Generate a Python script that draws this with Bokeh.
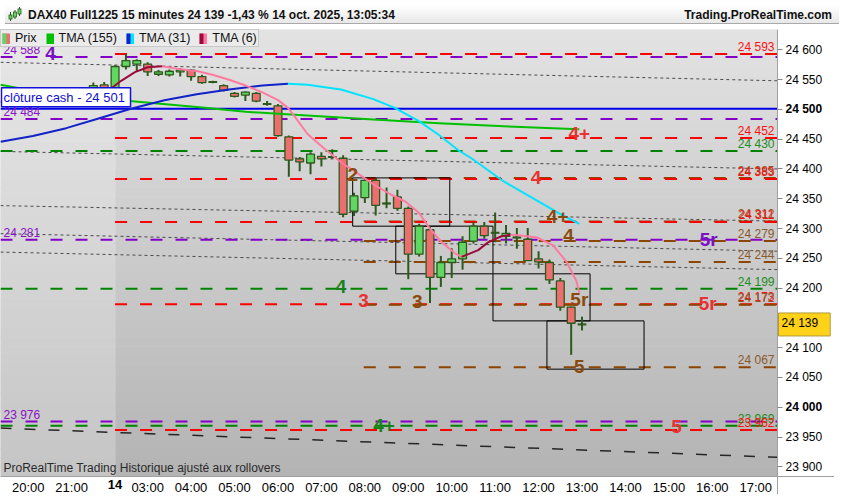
import numpy as np
from bokeh.plotting import figure
from bokeh.models import (ColumnDataSource, FixedTicker, Label, Legend, LegendItem,
                          Div, Range1d)
from bokeh.layouts import column
from bokeh.embed import file_html
from bokeh.resources import INLINE
from bokeh.core.properties import value

# ---------------- data ----------------
# 15-minute bars, index 0 = 03:00 on the 14th (session gap removed)
bar_idx = list(range(-13, 41))
opens = [24515, 24512, 24518, 24516, 24528, 24520, 24515, 24522, 24530, 24541,
         24528, 24572, 24576, 24576, 24559, 24558, 24563, 24566, 24555, 24546,
         24540, 24527, 24524, 24527, 24509, 24506, 24454, 24417, 24410, 24421,
         24420, 24418, 24329, 24352, 24381, 24342, 24353, 24334, 24257, 24298,
         24218, 24243, 24249, 24279, 24304, 24293, 24287, 24285, 24282, 24249,
         24243, 24212, 24168, 24139]
highs = [24521, 24520, 24524, 24531, 24533, 24526, 24524, 24536, 24545, 24546,
         24574, 24593, 24584, 24579, 24566, 24567, 24569, 24568, 24558, 24548,
         24542, 24529, 24530, 24529, 24514, 24509, 24456, 24420, 24428, 24428,
         24433, 24423, 24360, 24384, 24384, 24369, 24365, 24337, 24308, 24304,
         24254, 24267, 24287, 24311, 24311, 24327, 24306, 24301, 24301, 24262,
         24248, 24217, 24169, 24152]
lows = [24508, 24507, 24512, 24514, 24517, 24512, 24510, 24519, 24524, 24528,
        24522, 24567, 24564, 24556, 24556, 24555, 24555, 24548, 24543, 24544,
        24530, 24520, 24514, 24512, 24506, 24454, 24387, 24396, 24391, 24404,
        24417, 24319, 24321, 24343, 24322, 24334, 24330, 24215, 24253, 24175,
        24202, 24217, 24231, 24275, 24283, 24277, 24275, 24266, 24246, 24233,
        24207, 24162, 24088, 24129]
closes = [24512, 24518, 24516, 24527, 24520, 24515, 24522, 24533, 24540, 24532,
          24572, 24582, 24582, 24563, 24563, 24564, 24566, 24555, 24545, 24546,
          24532, 24522, 24529, 24514, 24509, 24456, 24415, 24412, 24425, 24417,
          24420, 24324, 24355, 24381, 24339, 24342, 24334, 24257, 24304, 24218,
          24243, 24249, 24277, 24304, 24288, 24293, 24292, 24285, 24246, 24244,
          24214, 24168, 24141, 24139]

hour_ticks = [-11, -7, -3, 0, 4, 8, 12, 16, 20, 24, 28, 32, 36, 40, 44, 48, 52, 56]
hour_labels = ["20:00", "21:00", "14", "03:00", "04:00", "05:00", "06:00", "07:00",
               "08:00", "09:00", "10:00", "11:00", "12:00", "13:00", "14:00",
               "15:00", "16:00", "17:00"]
price_ticks = list(range(23900, 24601, 50))
bold_price_ticks = [24500, 24000]

tma155_x = [-13.55, -10.21, -2.44, 4.52, 9.03, 13.55, 20.78, 26.83, 32.79, 39.75]
tma155_v = [24541.5, 24530, 24515.5, 24504, 24496, 24491, 24483, 24476.6, 24471.7, 24466.8]

tma31_x = [-13.55, -10.57, -7.50, -4.52, -1.54, 1.54, 4.52, 7.50, 10.57, 12.92, 14.72,
           17.80, 20.78, 22.76, 25.02, 26.83, 28.64, 29.81, 32.79, 35.86, 38.21, 39.75]
tma31_v = [24445.7, 24455.5, 24468.5, 24484.7, 24501, 24515.5, 24525.3, 24533.4, 24540,
           24543.2, 24541.5, 24533.4, 24517.2, 24502.6, 24479.8, 24457, 24431, 24418,
           24379, 24346.7, 24322.3, 24307.7]

tma6_x = [-13.55, -9.94, -6.96, -4.97, -3.61, -2.44, -1.17, 0, 1.36, 2.98, 4.52, 6.05,
          7.50, 9.03, 10.57, 12.01, 12.92, 13.55, 14.72, 16.26, 17.89, 19.24, 20.78,
          22.31, 23.76, 25.02, 25.93, 27.10, 28.27, 28.91, 30.44, 31.35, 32.52, 33.42,
          34.33, 35.86, 37.31, 38.57, 39.48, 39.75]
tma6_v = [24512.3, 24515.6, 24517, 24522, 24531.8, 24548, 24562.6, 24570.8, 24572.4,
          24567.5, 24564.3, 24557.8, 24549.7, 24540, 24528.5, 24515.6, 24502.6, 24488,
          24458.7, 24434.3, 24410, 24393.8, 24374.3, 24358, 24345, 24325.5, 24301.2,
          24276.8, 24258.9, 24252.5, 24263.8, 24276.8, 24286.6, 24289.8, 24288.2,
          24285, 24272, 24244.3, 24212, 24192.4]

level_price = [24593, 24588, 24484, 24452, 24430, 24385, 24383, 24312, 24311, 24281,
               24279, 24244, 24199, 24173, 24172, 24067, 23976, 23969, 23962]
level_kind = ["red", "purple", "purple", "red", "green", "brown", "red", "brown", "red",
              "purple", "brown", "brown", "green", "red", "brown", "brown", "purple",
              "green", "red"]
day_start = -3        # first bar of the 14th
brown_start = 19.9    # where the brown levels begin

trend_y0 = [24579, 24429.5, 24338.5, 24291.5, 24260.5, 23965]
trend_y1 = [24548, 24400, 24312.5, 24262, 24231, 23916]

box_left = [18.88, 22.85, 31.80, 36.77]
box_right = [27.82, 31.80, 40.74, 45.71]
box_top = [24385, 24304, 24224, 24145]
box_bottom = [24304, 24224, 24145, 24064]

sig_text = ["4", "2", "4+", "2", "4", "4+", "4", "5r", "4", "3", "3", "5r", "5r", "5", "4+", "5"]
sig_x = [-8.94, -0.18, 39.75, 18.88, 35.77, 37.76, 38.75, 51.67, 17.8, 19.87, 24.84,
         39.75, 51.58, 39.75, 21.77, 48.7]
sig_y = [24594, 24615, 24458.7, 24390.5, 24386.4, 24320.7, 24288.2, 24281.7, 24202,
         24179.4, 24177.8, 24181, 24174.5, 24069, 23970, 23968]
sig_kind = ["purple", "red", "red", "brown", "red", "brown", "brown", "purple", "green",
            "red", "brown", "brown", "red", "brown", "green", "red"]

cash_close = 24501
last_price = 24139

# ---------------- styling ----------------
FIG_W, FIG_H = 834, 465          # figure size (frame covers it all)
DATA_W, DATA_H = 777, 447        # price area inside it
X_LO, X_HI = -13.55, 58.0        # visible bar span of the price area
Y_LO, Y_HI = 23883.8, 24634.1    # visible price span of the price area
X_MAX = X_LO + (X_HI - X_LO) * FIG_W / DATA_W
Y_MIN = Y_HI - (Y_HI - Y_LO) * FIG_H / DATA_H

UP_FILL, DN_FILL, EDGE = "#62d662", "#ec6e6e", "#2c5a1c"
C155, C31_UP, C31_DN, C6_UP, C6_DN = "#00c000", "#1022c8", "#00e4ff", "#9c0a3c", "#ff7aa0"
LINE_COL = {"red": "#ff0000", "purple": "#8200c8", "green": "#008200", "brown": "#8c4600"}
LABEL_COL = {"red": "#ff1010", "purple": "#8a10c8", "green": "#1e8c1e", "brown": "#8b5a2b"}
SIG_COL = {"red": "#e83232", "purple": "#7a12c2", "green": "#1a821a", "brown": "#8a4a0c"}
FONT = "Liberation Sans"
NARROW = "'Liberation Sans Narrow', 'Arial Narrow', 'Liberation Sans', sans-serif"


def fmt(v):
    v = int(v)
    return f"{v // 1000} {v % 1000:03d}"


p = figure(width=FIG_W, height=FIG_H, x_range=Range1d(X_LO, X_MAX),
           y_range=Range1d(Y_MIN, Y_HI), y_axis_location="right", toolbar_location=None,
           tools="", output_backend="svg", min_border=0)
p.background_fill_color = "white"
p.border_fill_color = "white"
p.outline_line_color = None
p.xgrid.visible = False
p.ygrid.visible = False

# background gradient bands (previous session lighter)
nb = 48
edges = np.linspace(Y_LO, Y_HI, nb + 1)
tt = (np.arange(nb) + 0.5) / nb


def gray(v):
    v = int(round(v))
    return "#%02x%02x%02x" % (v, v, v)


main_cols = [gray(180 + (226 - 180) * t) for t in tt]
prev_cols = [gray(197 + (231 - 197) * t) for t in tt]
p.quad(left=day_start, right=X_HI, bottom=edges[:-1], top=edges[1:],
       fill_color=main_cols, line_color=main_cols, line_width=1, level="image")
p.quad(left=X_LO, right=day_start, bottom=edges[:-1], top=edges[1:],
       fill_color=prev_cols, line_color=prev_cols, line_width=1, level="image")

# sloped dotted lines
p.segment(x0=[X_LO] * 5, y0=trend_y0[:5], x1=[X_HI] * 5, y1=trend_y1[:5],
          line_color="#4a4a4a", line_width=1, line_dash="3 3")
p.segment(x0=[X_LO], y0=trend_y0[5:], x1=[X_HI], y1=trend_y1[5:],
          line_color="#262626", line_width=1.5, line_dash="11 13")

# horizontal levels
starts = [day_start if k == "red" else brown_start if k == "brown" else X_LO for k in level_kind]
lev_src = ColumnDataSource(dict(x0=starts, x1=[X_HI] * len(level_price), y=level_price,
                                col=[LINE_COL[k] for k in level_kind]))
p.segment(x0="x0", y0="y", x1="x1", y1="y", source=lev_src, line_color="col",
          line_width=2, line_dash="12 13")
# cash close line
p.segment(x0=[X_LO], y0=[cash_close], x1=[X_HI], y1=[cash_close], line_color="#0000e6",
          line_width=2)

# boxes
p.quad(left=box_left, right=box_right, top=box_top, bottom=box_bottom,
       fill_color=None, line_color="black", line_width=1)

# candles
o = np.array(opens, dtype=float)
c = np.array(closes, dtype=float)
fills = [UP_FILL if cc >= oo else DN_FILL for oo, cc in zip(o, c)]
cs = ColumnDataSource(dict(x=bar_idx, hi=highs, lo=lows, bot=np.minimum(o, c),
                           top=np.maximum(o, c), fill=fills))
p.segment(x0="x", y0="lo", x1="x", y1="hi", source=cs, line_color=EDGE, line_width=2)
p.vbar(x="x", bottom="bot", top="top", width=0.72, source=cs, fill_color="fill",
       line_color=EDGE, line_width=1.3)
doji = [i for i in range(len(bar_idx)) if opens[i] == closes[i]]
dx = [bar_idx[i] for i in doji]
dy = [opens[i] for i in doji]
p.segment(x0=[x - 0.4 for x in dx], y0=dy, x1=[x + 0.4 for x in dx], y1=dy,
          line_color=EDGE, line_width=2)


# TMA lines (dark colour when rising, light when falling)
def runs(xs, ys, up_col, dn_col):
    out_x, out_y, out_c = [], [], []
    cur_x, cur_y, cur_c = [xs[0]], [ys[0]], None
    for i in range(1, len(xs)):
        col = up_col if ys[i] >= ys[i - 1] else dn_col
        if cur_c is None or col == cur_c:
            cur_x.append(xs[i]); cur_y.append(ys[i]); cur_c = col
        else:
            out_x.append(cur_x); out_y.append(cur_y); out_c.append(cur_c)
            cur_x, cur_y, cur_c = [xs[i - 1], xs[i]], [ys[i - 1], ys[i]], col
    out_x.append(cur_x); out_y.append(cur_y); out_c.append(cur_c)
    return out_x, out_y, out_c


p.line(tma155_x, tma155_v, line_color=C155, line_width=2, line_join="round")
for xs_, ys_, up_, dn_ in [(tma31_x, tma31_v, C31_UP, C31_DN), (tma6_x, tma6_v, C6_UP, C6_DN)]:
    rx, ry, rc = runs(xs_, ys_, up_, dn_)
    p.multi_line(xs=rx, ys=ry, line_color=rc, line_width=2, line_join="round")

# signal labels
sig_src = ColumnDataSource(dict(x=sig_x, y=sig_y, t=sig_text, col=[SIG_COL[k] for k in sig_kind]))
p.text(x="x", y="y", text="t", source=sig_src, text_color="col", text_font=value(FONT),
       text_font_size="19px", text_font_style="bold", text_align="center",
       text_baseline="middle")

# level value labels
r_idx = [i for i, k in enumerate(level_kind) if k != "purple"]
l_idx = [i for i, k in enumerate(level_kind) if k == "purple"]
rsrc = ColumnDataSource(dict(x=[X_HI] * len(r_idx), y=[level_price[i] for i in r_idx],
                             t=[fmt(level_price[i]) for i in r_idx],
                             col=[LABEL_COL[level_kind[i]] for i in r_idx]))
p.text(x="x", y="y", text="t", source=rsrc, text_color="col", text_font=value(FONT),
       text_font_size="12px", text_align="right", text_baseline="bottom", x_offset=-3)
lsrc = ColumnDataSource(dict(x=[X_LO] * len(l_idx), y=[level_price[i] for i in l_idx],
                             t=[fmt(level_price[i]) for i in l_idx],
                             col=[LABEL_COL[level_kind[i]] for i in l_idx]))
p.text(x="x", y="y", text="t", source=lsrc, text_color="col", text_font=value(FONT),
       text_font_size="12px", text_align="left", text_baseline="bottom", x_offset=3)

# cash close label box
p.add_layout(Label(x=X_LO, y=cash_close, x_offset=1, y_offset=2,
                   text="clôture cash -  " + fmt(cash_close), text_color="#1010d0",
                   text_font=FONT, text_font_size="13px", text_baseline="bottom",
                   background_fill_color="white", border_line_color="#1010e0",
                   border_line_width=1.5, padding=2))

# bottom-left note
p.add_layout(Label(x=X_LO, y=Y_LO, x_offset=3, y_offset=2,
                   text="ProRealTime Trading  Historique ajusté aux rollovers",
                   text_color="#2a2a2a", text_font=NARROW, text_font_size="12px",
                   text_baseline="bottom"))

# legend (split two-colour swatches: solid line + dashed line on top)
nan_src = ColumnDataSource(dict(x=[np.nan], y=[np.nan]))


def sw(color, dash="solid"):
    return p.line("x", "y", source=nan_src, line_color=color, line_width=11, line_dash=dash)


legend = Legend(items=[
    LegendItem(label=value("Prix"), renderers=[sw(DN_FILL), sw(UP_FILL, "4 4")]),
    LegendItem(label=value("TMA (155)"), renderers=[sw(C155)]),
    LegendItem(label=value("TMA (31)"), renderers=[sw(C31_DN), sw(C31_UP, "4 4")]),
    LegendItem(label=value("TMA (6)"), renderers=[sw(C6_DN), sw(C6_UP, "4 4")]),
], location="top_left", orientation="horizontal", margin=0, padding=1, spacing=9,
    label_standoff=5, glyph_width=8, glyph_height=11, label_height=11,
    label_text_font=FONT, label_text_font_size="12.5px", label_text_color="#111111",
    background_fill_color="#ebebeb", background_fill_alpha=1.0,
    border_line_color="#a8a8a8", border_line_width=1)
p.add_layout(legend)

# axes drawn at fixed positions inside the figure
ya = p.yaxis[0]
ya.fixed_location = X_HI
ya.ticker = FixedTicker(ticks=price_ticks)
ya.major_label_overrides = {v: ("" if v in bold_price_ticks else fmt(v)) for v in price_ticks}
ya.major_tick_out = 5
ya.major_tick_in = 0
ya.minor_tick_out = 0
ya.minor_tick_in = 0
ya.major_tick_line_color = "#888888"
ya.axis_line_color = "#a0a0a0"
ya.major_label_standoff = 3
ya.major_label_text_font = FONT
ya.major_label_text_font_size = "12px"
ya.major_label_text_color = "black"

xa = p.xaxis[0]
xa.fixed_location = Y_LO
xa.ticker = FixedTicker(ticks=hour_ticks)
xa.major_label_overrides = {t: ("" if lab == "14" else lab) for t, lab in zip(hour_ticks, hour_labels)}
xa.major_tick_out = 0
xa.major_tick_in = 0
xa.minor_tick_out = 0
xa.minor_tick_in = 0
xa.axis_line_color = "#a0a0a0"
xa.major_label_standoff = 3
xa.major_label_text_font = NARROW
xa.major_label_text_font_size = "13px"
xa.major_label_text_color = "black"

for v in bold_price_ticks:
    p.add_layout(Label(x=X_HI, y=v, x_offset=8, text=fmt(v), text_font=FONT,
                       text_font_size="12px", text_font_style="bold",
                       text_baseline="middle", text_color="black"))
for t, lab in zip(hour_ticks, hour_labels):
    if lab == "14":
        p.add_layout(Label(x=t, y=Y_LO, y_offset=-3, text=lab, text_font=FONT,
                           text_font_size="13px", text_font_style="bold",
                           text_align="center", text_baseline="top", text_color="black"))

# last price tag on the axis
p.add_layout(Label(x=X_HI, y=last_price, x_offset=1, text=fmt(last_price), text_font=FONT,
                   text_font_size="12px", text_baseline="middle", text_color="black",
                   background_fill_color="#ffd21a", border_line_color="#b09a40",
                   padding=(3, 12, 3, 6), level="overlay"))

# header bar
icon = ('<svg width="14" height="15" style="position:absolute;left:3px;top:2px">'
        '<line x1="2.5" y1="5" x2="2.5" y2="14" stroke="#2c5a1c"/>'
        '<rect x="1" y="8" width="3" height="4" fill="#62d662" stroke="#2c5a1c" stroke-width="0.8"/>'
        '<line x1="7" y1="3" x2="7" y2="12" stroke="#2c5a1c"/>'
        '<rect x="5.5" y="5" width="3" height="5" fill="#62d662" stroke="#2c5a1c" stroke-width="0.8"/>'
        '<line x1="11.5" y1="0" x2="11.5" y2="9" stroke="#2c5a1c"/>'
        '<rect x="10" y="2" width="3" height="5" fill="#62d662" stroke="#2c5a1c" stroke-width="0.8"/>'
        '</svg>')
title_text = "DAX40 Full1225 15 minutes 24 139 -1,43 % 14 oct. 2025, 13:05:34"
header_html = (
    '<div style="position:relative;width:834px;height:19px;box-sizing:border-box;'
    'border-bottom:1px solid #a9a9a9;background:linear-gradient(#ffffff,#e8e8e8);'
    "font-family:'Liberation Sans',Arial,sans-serif;font-size:12px;font-weight:bold;"
    'color:#111;white-space:nowrap;">' + icon +
    '<span style="position:absolute;left:23px;top:2px;">' + title_text + '</span>'
    '<span style="position:absolute;right:7px;top:2px;">Trading.ProRealTime.com</span>'
    '</div>')
header = Div(text=header_html, width=FIG_W, height=19)

layout = column(header, p, spacing=0)
open("out.html", "w").write(file_html(layout, INLINE, "DAX40 15 minutes"))
